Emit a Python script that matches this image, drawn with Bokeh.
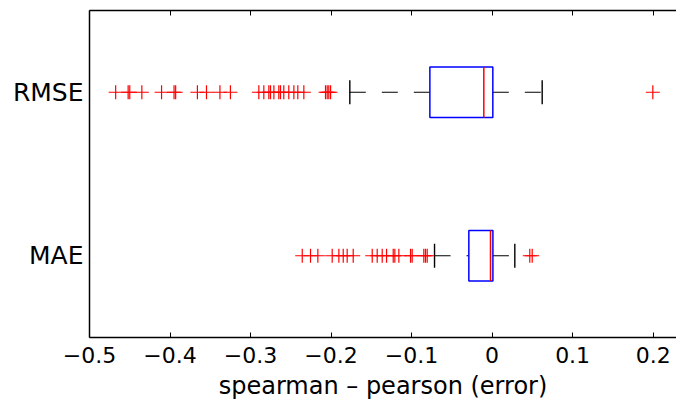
from bokeh.plotting import figure
from bokeh.models import Range1d, FixedTicker, LinearAxis, ColumnDataSource
from bokeh.embed import file_html
from bokeh.resources import INLINE

# ---- data ----
categories = ["MAE", "RMSE"]
positions = [1, 2]
q1 = [-0.0289, -0.0773]
median = [-0.0020, -0.0103]
q3 = [0.0010, 0.0009]
whisker_low = [-0.0715, -0.1767]
whisker_high = [0.0282, 0.0622]

mae_outliers = [-0.2358, -0.2255, -0.2164, -0.1986, -0.1903, -0.1849, -0.1800,
                -0.1725, -0.1489, -0.1427, -0.1365, -0.1311, -0.1228, -0.1208,
                -0.1158, -0.1013, -0.0993, -0.0848, -0.0827, -0.0806,
                0.0468, 0.0498]
rmse_outliers = [-0.4675, -0.4520, -0.4500, -0.4350, -0.4105, -0.3950, -0.3930,
                 -0.3660, -0.3547, -0.3380, -0.3250, -0.2897, -0.2835, -0.2773,
                 -0.2752, -0.2710, -0.2649, -0.2628, -0.2587, -0.2525, -0.2462,
                 -0.2413, -0.2338, -0.2069, -0.2048, -0.2028, -0.2006, 0.1996]

x_ticks = [-0.5, -0.4, -0.3, -0.2, -0.1, 0.0, 0.1, 0.2]
x_tick_labels = ["\u22120.5", "\u22120.4", "\u22120.3", "\u22120.2", "\u22120.1", "0", "0.1", "0.2"]
x_label = "spearman \u2013 pearson (error)"

FONT = "DejaVu Sans"
box_h = 0.31
cap_h = 0.147

p = figure(width=676, height=413, output_backend="svg", toolbar_location=None,
           x_range=Range1d(-0.5, 0.229), y_range=Range1d(0.5, 2.5),
           x_axis_location=None, y_axis_location=None,
           min_border_left=89, min_border_right=0, min_border_top=10, min_border_bottom=76)
p.grid.visible = False
p.outline_line_color = None
p.background_fill_color = "white"
p.border_fill_color = "white"

# axes
xb = LinearAxis(ticker=FixedTicker(ticks=x_ticks),
                major_label_overrides={t: l for t, l in zip(x_ticks, x_tick_labels)},
                axis_label=x_label)
xb.major_tick_in = 5
xb.major_tick_out = 0
xb.minor_tick_line_color = None
xb.axis_line_width = 1.5
xb.major_tick_line_width = 1
xb.major_label_text_font = FONT
xb.major_label_text_font_size = "22px"
xb.major_label_text_color = "black"
xb.major_label_standoff = 9
xb.axis_label_text_font = FONT
xb.axis_label_text_font_size = "24px"
xb.axis_label_text_font_style = "normal"
xb.axis_label_text_color = "black"
xb.axis_label_standoff = 6
p.add_layout(xb, "below")

xt = LinearAxis(ticker=FixedTicker(ticks=x_ticks))
xt.major_tick_in = 5
xt.major_tick_out = 0
xt.minor_tick_line_color = None
xt.axis_line_width = 1.5
xt.major_label_text_font_size = "0px"
xt.major_label_text_alpha = 0
xt.major_label_standoff = 0
p.add_layout(xt, "above")

yl = LinearAxis(ticker=FixedTicker(ticks=positions),
                major_label_overrides={pos: c for pos, c in zip(positions, categories)})
yl.major_tick_in = 0
yl.major_tick_out = 0
yl.minor_tick_line_color = None
yl.axis_line_width = 1.5
yl.major_label_text_font = FONT
yl.major_label_text_font_size = "25px"
yl.major_label_text_color = "black"
yl.major_label_standoff = 6
p.add_layout(yl, "left")

src = ColumnDataSource(dict(
    y=positions, q1=q1, med=median, q3=q3, lo=whisker_low, hi=whisker_high,
    ytop=[v + box_h / 2 for v in positions], ybot=[v - box_h / 2 for v in positions],
    ctop=[v + cap_h / 2 for v in positions], cbot=[v - cap_h / 2 for v in positions],
))

# whiskers (dashed), drawn left to right
p.segment(x0="lo", y0="y", x1="q1", y1="y", source=src, line_color="black",
          line_width=1.2, line_dash="16 16")
p.segment(x0="q3", y0="y", x1="hi", y1="y", source=src, line_color="black",
          line_width=1.2, line_dash="16 16")
# caps
p.segment(x0="lo", y0="cbot", x1="lo", y1="ctop", source=src, line_color="black", line_width=1.4)
p.segment(x0="hi", y0="cbot", x1="hi", y1="ctop", source=src, line_color="black", line_width=1.4)
# boxes
p.quad(left="q1", right="q3", bottom="ybot", top="ytop", source=src,
       fill_color=None, line_color="#0000ff", line_width=1.5)
# medians
p.segment(x0="med", y0="ybot", x1="med", y1="ytop", source=src, line_color="#ff0000", line_width=1.5)

# outliers
p.scatter(x=mae_outliers, y=[positions[0]] * len(mae_outliers), marker="cross",
          size=14, line_color="#ff0000", line_width=1.2)
p.scatter(x=rmse_outliers, y=[positions[1]] * len(rmse_outliers), marker="cross",
          size=14, line_color="#ff0000", line_width=1.2)

open("out.html", "w").write(file_html(p, INLINE))
